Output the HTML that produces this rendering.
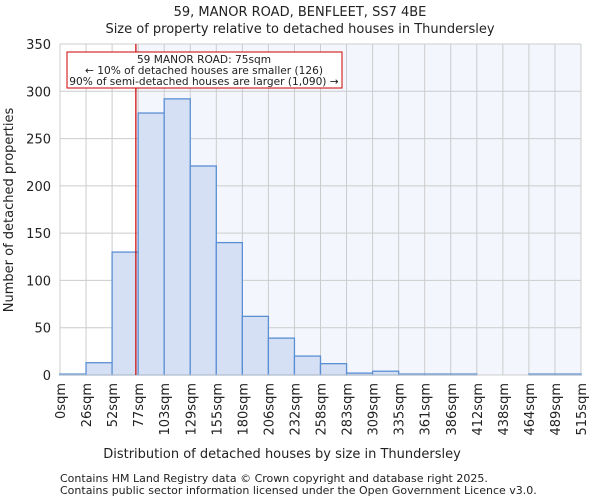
<!DOCTYPE html>
<html><head><meta charset="utf-8"><style>
body{margin:0;background:#fff;font-family:"DejaVu Sans","Liberation Sans",sans-serif;}
svg text{font-family:"DejaVu Sans","Liberation Sans",sans-serif;fill:#222;}
</style></head><body>
<svg id="c" width="600" height="500">
<text x="300" y="16" text-anchor="middle" font-size="13">59, MANOR ROAD, BENFLEET, SS7 4BE</text>
<text x="300" y="33" text-anchor="middle" font-size="13">Size of property relative to detached houses in Thundersley</text>
<g id="plot"></g>
<text x="282" y="458" text-anchor="middle" font-size="13">Distribution of detached houses by size in Thundersley</text>
<text transform="translate(13,210) rotate(-90)" text-anchor="middle" font-size="13">Number of detached properties</text>
<text x="60" y="482" font-size="11" fill="#444">Contains HM Land Registry data © Crown copyright and database right 2025.</text>
<text x="60" y="494" font-size="11" fill="#444">Contains public sector information licensed under the Open Government Licence v3.0.</text>
</svg>
<script>
const binEdges=[0,26,52,77,103,129,155,180,206,232,258,283,309,335,361,386,412,438,464,489,515];
const counts=[1,13,130,277,292,221,140,62,39,20,12,2,4,1,1,1,0,0,1,1];
const yTicks=[0,50,100,150,200,250,300,350];
const markerValue=75;
const X0=60,X1=581,Y0=375,Y1=44,XMAX=515,YMAX=350;
const NS="http://www.w3.org/2000/svg";
const g=document.getElementById('plot');
const xs=v=>X0+v/XMAX*(X1-X0);
const ys=v=>Y0-v/YMAX*(Y0-Y1);
const xi=i=>X0+i/counts.length*(X1-X0);
function mk(t,a){const e=document.createElementNS(NS,t);for(const k in a)e.setAttribute(k,a[k]);g.appendChild(e);return e;}
const mx=xs(markerValue);
let bg=mk('rect',{x:X0,y:Y1,width:X1-X0,height:Y0-Y1,fill:'#fff'});


let hb=mk('rect',{x:mx,y:Y1,width:X1-mx,height:Y0-Y1,fill:'#f3f6fd'});


yTicks.forEach(t=>{
 let l=mk('line',{x1:X0,x2:X1,y1:ys(t),y2:ys(t),stroke:'#ccc'});
 
 
 let tx=mk('text',{x:X0-9,y:ys(t)+5,'text-anchor':'end','font-size':13});
 tx.textContent=t;
 
 
});
binEdges.forEach((b,i)=>{
 let l=mk('line',{x1:xi(i),x2:xi(i),y1:Y1,y2:Y0,stroke:'#ccc'});
 
 
 let tx=mk('text',{transform:`translate(${xi(i)+5},${Y0+8}) rotate(-90)`,'text-anchor':'end','font-size':13});
 tx.textContent=b+'sqm';
 
 
});
counts.forEach((c,i)=>{
 let r=mk('rect',{x:xi(i),y:ys(c),width:xi(i+1)-xi(i),height:Y0-ys(c),fill:'#d6e0f4',stroke:'#5b8fd4','stroke-width':1.3});
 
 
});
let ax=mk('line',{x1:X0,x2:X1,y1:Y0,y2:Y0,stroke:'#ccc'});


let ml=mk('line',{x1:mx,x2:mx,y1:Y1,y2:Y0,stroke:'#cc0000','stroke-width':1.2});


let box=mk('rect',{x:67,y:52,width:275,height:36,fill:'#fff',stroke:'#cc0000','stroke-width':1});


[['59 MANOR ROAD: 75sqm',63],['← 10% of detached houses are smaller (126)',74],['90% of semi-detached houses are larger (1,090) →',85]].forEach(([s,y])=>{
 let t=mk('text',{x:204,y:y,'text-anchor':'middle','font-size':10.6});
 t.textContent=s;
 
 
});
</script>
</body></html>
